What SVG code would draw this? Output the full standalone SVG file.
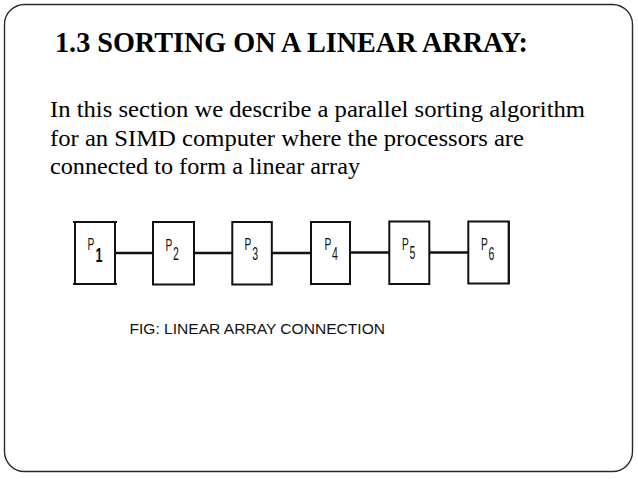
<svg xmlns="http://www.w3.org/2000/svg" width="638" height="479" viewBox="0 0 638 479">
<style>
.frame{fill:#fff;stroke:#2a2a2a;stroke-width:1.4}
.title{font-family:"Liberation Serif","Times New Roman",serif;font-weight:bold;font-size:28.5px;fill:#000}
.body{font-family:"Liberation Serif","Times New Roman",serif;font-size:23px;fill:#000}
.box{fill:#fff;stroke:#111;stroke-width:2}
.wire{stroke:#111;stroke-width:2.5;fill:none}
.p{font-family:"Liberation Sans",Arial,sans-serif;font-size:17px;fill:#111}
.sub{font-size:17.5px}
.cap{font-family:"Liberation Sans",Arial,sans-serif;font-size:15px;fill:#111}
</style>
<rect class="frame" x="4.5" y="4.5" width="628" height="467" rx="20" ry="20"/>
<text class="title" x="55" y="52" textLength="473" lengthAdjust="spacingAndGlyphs">1.3 SORTING ON A LINEAR ARRAY:</text>
<g id="body-text">
<text class="body" x="50" y="117" textLength="535" lengthAdjust="spacingAndGlyphs">In this section we describe a parallel sorting algorithm</text>
<text class="body" x="50" y="146" textLength="474" lengthAdjust="spacingAndGlyphs">for an SIMD computer where the processors are</text>
<text class="body" x="50" y="174" textLength="310" lengthAdjust="spacingAndGlyphs">connected to form a linear array</text>
</g>
<g id="connectors">
<line class="wire" x1="115" y1="253" x2="153" y2="253"/>
<line class="wire" x1="194" y1="253" x2="232" y2="253"/>
<line class="wire" x1="272" y1="253" x2="311" y2="253"/>
<line class="wire" x1="350" y1="252.5" x2="389" y2="252.5"/>
<line class="wire" x1="429" y1="252.5" x2="468" y2="252.5"/>
</g>
<g id="P1">
<rect class="box" x="75" y="222" width="40" height="62"/>
<line class="box" x1="73" y1="284" x2="117" y2="284"/>
<line class="box" x1="73" y1="222" x2="117" y2="222"/>
<text class="p" transform="translate(87.5,250) scale(0.6,1)">P<tspan x="13.5" dy="12" font-size="21" font-weight="bold">1</tspan></text>
</g>
<g id="P2">
<rect class="box" x="153" y="222" width="41" height="62.5"/>
<text class="p" transform="translate(165.5,251) scale(0.6,1)">P<tspan class="sub" x="12.5" dy="8.5">2</tspan></text>
</g>
<g id="P3">
<rect class="box" x="232.3" y="222" width="39.5" height="62.5"/>
<text class="p" transform="translate(244.5,250) scale(0.6,1)">P<tspan class="sub" x="13" dy="10">3</tspan></text>
</g>
<g id="P4">
<rect class="box" x="311" y="222" width="39" height="62"/>
<text class="p" transform="translate(324.5,250) scale(0.6,1)">P<tspan class="sub" x="12.5" dy="9.5">4</tspan></text>
</g>
<g id="P5">
<rect class="box" x="389.3" y="221.5" width="40" height="62.5"/>
<text class="p" transform="translate(402,250) scale(0.6,1)">P<tspan class="sub" x="12.5" dy="8.5">5</tspan></text>
</g>
<g id="P6">
<rect class="box" x="468.3" y="221.5" width="40.5" height="62"/>
<line class="box" x1="508.8" y1="221.5" x2="508.8" y2="283.5" stroke-width="3"/>
<text class="p" transform="translate(481,249.5) scale(0.6,1)">P<tspan class="sub" x="12.5" dy="10">6</tspan></text>
</g>
<text class="cap" x="129.5" y="334" textLength="255.5" lengthAdjust="spacingAndGlyphs">FIG: LINEAR ARRAY CONNECTION</text>
</svg>
